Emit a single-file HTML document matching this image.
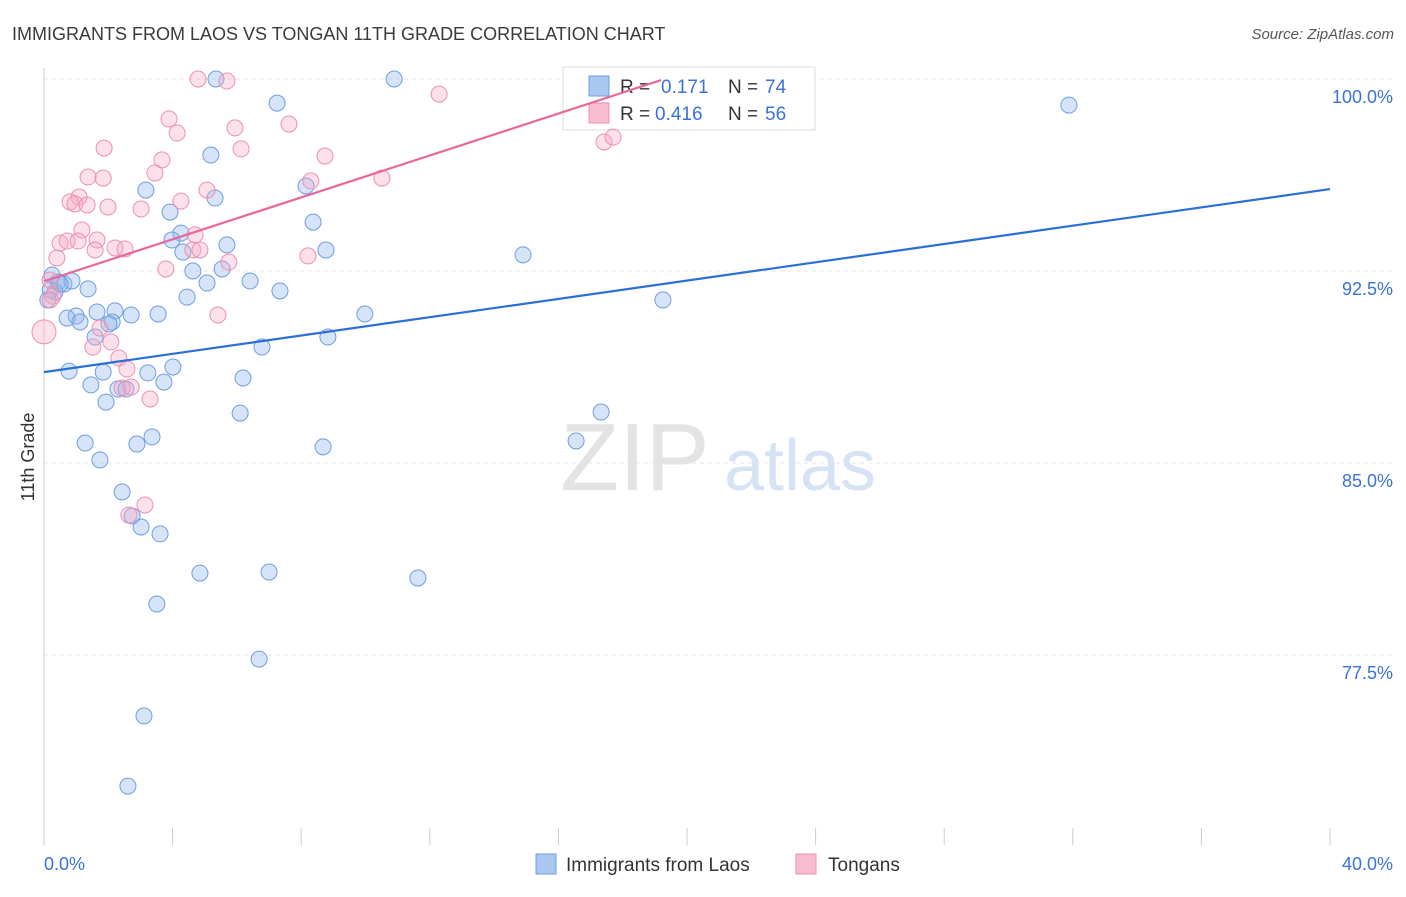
<!DOCTYPE html>
<html><head><meta charset="utf-8"><style>
body{margin:0;background:#fff;font-family:"Liberation Sans",sans-serif;}
svg text{font-family:"Liberation Sans",sans-serif;}
</style></head><body>
<svg id="chart" width="1406" height="892" xmlns="http://www.w3.org/2000/svg">
<text x="12" y="40" font-size="18" fill="#3a3a3a">IMMIGRANTS FROM LAOS VS TONGAN 11TH GRADE CORRELATION CHART</text>
<text x="1394" y="39" font-size="15" fill="#555" text-anchor="end" font-style="italic">Source: ZipAtlas.com</text>
<text transform="translate(34,457) rotate(-90)" font-size="18" fill="#333" text-anchor="middle">11th Grade</text>
<g><text x="635" y="490" font-size="96" fill="#e3e3e3" text-anchor="middle" font-family="Liberation Serif">ZIP</text><text x="800" y="490" font-size="72" fill="#d6e3f5" text-anchor="middle">atlas</text></g>
<g id="grid"></g><g id="axes"></g>
<g>
<rect x="563" y="67" width="252" height="63" fill="#fff" stroke="#ddd"/>
<rect x="589" y="76" width="20" height="20" fill="#a9c7f0" stroke="#6e9ee0"/>
<text x="620" y="93" font-size="19" fill="#333">R = </text><text x="661" y="93" font-size="19" fill="#3a72d8">0.171</text>
<text x="728" y="93" font-size="19" fill="#333">N = </text><text x="765" y="93" font-size="19" fill="#3a72d8">74</text>
<rect x="589" y="103" width="20" height="20" fill="#f7bcd0" stroke="#ee8fb0"/>
<text x="620" y="120" font-size="19" fill="#333">R = </text><text x="655" y="120" font-size="19" fill="#3a72d8">0.416</text>
<text x="728" y="120" font-size="19" fill="#333">N = </text><text x="765" y="120" font-size="19" fill="#3a72d8">56</text>
</g>
<g id="marks"></g>
<g><rect x="536" y="854" width="20" height="20" fill="#a9c7f0" stroke="#6e9ee0"/><text x="566" y="871" font-size="19" fill="#333">Immigrants from Laos</text></g>
<g><rect x="796" y="854" width="20" height="20" fill="#f7bcd0" stroke="#ee8fb0"/><text x="828" y="871" font-size="19" fill="#333">Tongans</text></g>
</svg>
<script>
const xTicks=[0,4,8,12,16,20,24,28,32,36,40];
const yTicks=[77.5,85.0,92.5,100.0];
const blueX=[5.35,10.89,7.25,31.88,5.19,3.17,5.32,8.15,3.92,8.37,4.26,3.98,5.69,8.77,4.32,14.90,4.63,5.54,6.41,5.07,7.34,4.45,0.25,0.44,0.62,0.87,1.37,0.34,19.25,9.98,3.55,2.71,2.21,1.65,1.00,0.72,1.12,2.12,2.02,1.59,8.83,6.78,0.78,1.84,3.23,4.01,3.73,6.19,1.46,2.30,2.55,1.93,6.10,17.33,16.55,1.28,2.89,3.36,8.68,1.74,2.43,2.74,3.02,3.61,4.85,7.00,11.63,3.51,6.69,3.11,2.61,0.19,0.12,0.50];
const blueY=[100.0,100.0,99.06,98.98,97.03,95.66,95.35,95.82,94.80,94.41,93.98,93.71,93.52,93.32,93.24,93.13,92.50,92.58,92.11,92.03,91.72,91.48,92.34,92.07,91.99,92.11,91.80,91.68,91.37,90.82,90.82,90.78,90.94,90.90,90.74,90.66,90.51,90.51,90.43,89.92,89.92,89.53,88.59,88.55,88.52,88.75,88.16,88.32,88.05,87.89,87.89,87.38,86.95,86.99,85.86,85.78,85.74,86.02,85.63,85.12,83.87,82.93,82.50,82.23,80.70,80.74,80.51,79.49,77.34,75.12,72.38,91.76,91.37,91.99];
const pinkX=[4.79,5.69,12.29,3.89,7.62,4.14,5.94,1.87,6.13,3.67,8.74,17.42,17.70,3.45,1.37,1.84,10.51,8.30,5.07,4.26,1.09,0.81,0.96,1.34,1.99,3.02,1.18,1.65,4.70,0.50,0.72,1.06,2.21,2.52,1.59,4.63,0.40,8.21,5.75,3.79,0.19,0.28,5.41,1.74,1.52,2.08,2.33,2.58,2.43,2.71,3.30,2.64,3.14,0.0,0.19,4.85];
const pinkY=[100.0,99.92,99.41,98.44,98.24,97.89,98.09,97.30,97.27,96.84,96.99,97.54,97.73,96.33,96.17,96.13,96.13,96.02,95.66,95.23,95.39,95.20,95.12,95.08,95.00,94.92,94.10,93.71,93.91,93.59,93.67,93.67,93.40,93.36,93.32,93.32,93.01,93.09,92.85,92.58,92.15,91.52,90.78,90.27,89.53,89.73,89.10,88.67,87.93,87.97,87.50,82.97,83.36,90.12,91.37,93.32];
const blueTrendX=[0,40], blueTrendY=[88.55,95.7];
const pinkTrendX=[0,19.2], pinkTrendY=[92.1,99.96];
const NS="http://www.w3.org/2000/svg";
const X0=44,X1=1330,YTOP=79,YPX=25.6;
function sx(v){return X0+(v/40)*(X1-X0);}
function sy(v){return YTOP+(100-v)*YPX;}
function mk(t,a,p){const e=document.createElementNS(NS,t);for(const k in a)e.setAttribute(k,a[k]);document.getElementById(p).appendChild(e);return e;}
let l=mk('line',{x1:44,y1:68,x2:44,y2:845,stroke:'#ccc'},'axes');


xTicks.forEach((t,i)=>{const e=mk('line',{x1:sx(t),x2:sx(t),y1:828,y2:845,stroke:'#ccc'},'axes');

});
let a=mk('text',{x:44,y:870,'font-size':18,fill:'#3a72d8'},'axes');a.textContent='0.0%';


let b=mk('text',{x:1393,y:870,'font-size':18,fill:'#3a72d8','text-anchor':'end'},'axes');b.textContent='40.0%';


yTicks.forEach(t=>{const g=mk('line',{x1:44,x2:1393,y1:sy(t),y2:sy(t),stroke:'#e4e4e4','stroke-dasharray':'4,4'},'grid');


const tx=mk('text',{x:1393,y:sy(t)+24,'font-size':18,fill:'#3a72d8','text-anchor':'end'},'grid');tx.textContent=t.toFixed(1)+'%';

});
blueX.forEach((v,i)=>{const c=mk('circle',{cx:sx(v),cy:sy(blueY[i]),r:8,fill:'rgba(150,188,238,0.4)',stroke:'#6e9ee0','stroke-width':1},'marks');

});
pinkX.forEach((v,i)=>{const c=mk('circle',{cx:sx(v),cy:sy(pinkY[i]),r:(v===0?12:8),fill:'rgba(245,170,198,0.35)',stroke:'#ee8fb0','stroke-width':1},'marks');

});
let bt=mk('line',{x1:sx(blueTrendX[0]),y1:sy(blueTrendY[0]),x2:sx(blueTrendX[1]),y2:sy(blueTrendY[1]),stroke:'#2a6fd6','stroke-width':2.2},'marks');


let pt=mk('line',{x1:sx(pinkTrendX[0]),y1:sy(pinkTrendY[0]),x2:sx(pinkTrendX[1]),y2:sy(pinkTrendY[1]),stroke:'#e8689a','stroke-width':2.2},'marks');


</script>
</body></html>
